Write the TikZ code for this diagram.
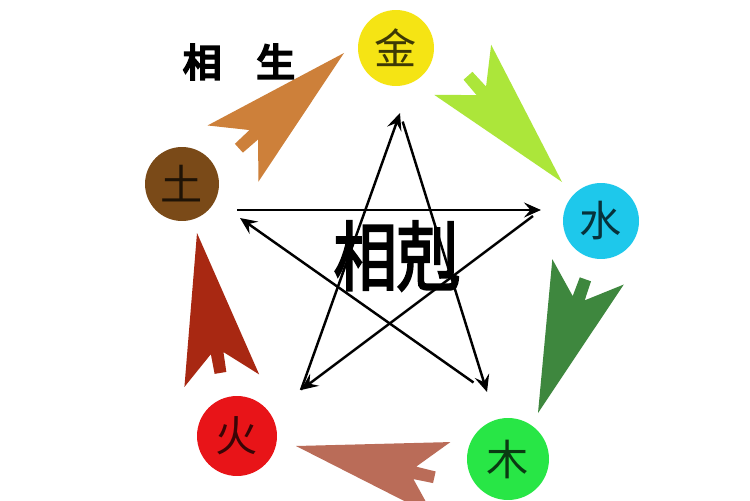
\documentclass[tikz,border=0pt]{standalone}
\usepackage{fontspec}
\usepackage{graphicx}
\usetikzlibrary{calc,arrows.meta}
\newfontfamily\cjk{Noto Sans CJK SC}
\newfontfamily\cjkbold{Noto Sans CJK SC}[AutoFakeBold=3]
\newfontfamily\cjkheavy{Noto Sans CJK SC}[AutoFakeBold=6]
\definecolor{jincol}{RGB}{245,228,20}
\definecolor{shuicol}{RGB}{30,200,235}
\definecolor{mucol}{RGB}{40,230,70}
\definecolor{huocol}{RGB}{232,20,24}
\definecolor{tucol}{RGB}{122,74,24}
\definecolor{orangearr}{RGB}{205,128,58}
\definecolor{limearr}{RGB}{172,230,58}
\definecolor{greenarr}{RGB}{62,135,62}
\definecolor{pinkarr}{RGB}{186,108,88}
\definecolor{redarr}{RGB}{168,40,18}
% big arrow: colour, tip, tail
\newcommand{\shengjian}[3]{%
  \fill[#1] (#2) -- ($(#2)!3.09cm!14.2:(#3)$) -- ($(#2)!2.44cm!3.0:(#3)$)
    -- ($(#2)!2.84cm!2.4:(#3)$) -- ($(#2)!2.84cm!-2.4:(#3)$)
    -- ($(#2)!2.44cm!-3.0:(#3)$) -- ($(#2)!3.09cm!-14.2:(#3)$) -- cycle;}
\begin{document}
\begin{tikzpicture}[x=0.02cm,y=-0.02cm,
	wx node/.style={circle,fill=#1,text=#1!25!black,inner sep=0pt,
		font=\cjk\fontsize{24}{24}\selectfont},
	ke/.style={-{Stealth[length=3.4mm,width=3mm,inset=1.3mm]},line width=1.4pt}]
	
	\clip (0,0) rectangle (750,500);
	\fill[white] (0,0) rectangle (750,500);
	
	\node[wx node=jincol, minimum size=1.52cm] (jin) at (396,48) {金};
	\node[wx node=shuicol, minimum size=1.52cm] (shui) at (601,221) {水};
	\node[wx node=mucol, minimum size=1.64cm] (mu) at (508,459) {木};
	\node[wx node=huocol, minimum size=1.6cm] (huo) at (237,436) {火};
	\node[wx node=tucol, minimum size=1.48cm] (tu) at (182,184) {土};
	
	% xiang sheng
	\coordinate (tipA) at (344,53);  \coordinate (tailA) at (227,159);
	\coordinate (tipB) at (562,182); \coordinate (tailB) at (462,69);
	\coordinate (tipC) at (538,413); \coordinate (tailC) at (588,272);
	\coordinate (tipD) at (296,446); \coordinate (tailD) at (442,479);
	\coordinate (tipE) at (197,233); \coordinate (tailE) at (222,382);
	\shengjian{orangearr}{tipA}{tailA}
	\shengjian{limearr}{tipB}{tailB}
	\shengjian{greenarr}{tipC}{tailC}
	\shengjian{pinkarr}{tipD}{tailD}
	\shengjian{redarr}{tipE}{tailE}
	
	% xiang ke
	\coordinate (kT) at (400,113);
	\coordinate (kR) at (541,210);
	\coordinate (kBR) at (487,392);
	\coordinate (kBL) at (301,390);
	\coordinate (kL) at (237,210);
	\draw[ke, shorten <=0.18cm] (kT) -- (kBR);
	\draw[ke, shorten <=0.33cm] (kBR) -- ([shift={(3,8)}]kL);
	\draw[ke] (kL) -- (kR);
	\draw[ke, shorten <=0.2cm] (kR) -- (kBL);
	\draw[ke] (kBL) -- (kT);
	
	\node[font=\cjkheavy\bfseries\fontsize{22}{22}\selectfont] (sheng) at (239,62) {相\hspace{0.9em}生};
	\node[font=\cjkbold\bfseries\fontsize{43}{43}\selectfont] (ke) at (397,256) {\scalebox{0.84}[1]{相剋}};
\end{tikzpicture}
\end{document}
